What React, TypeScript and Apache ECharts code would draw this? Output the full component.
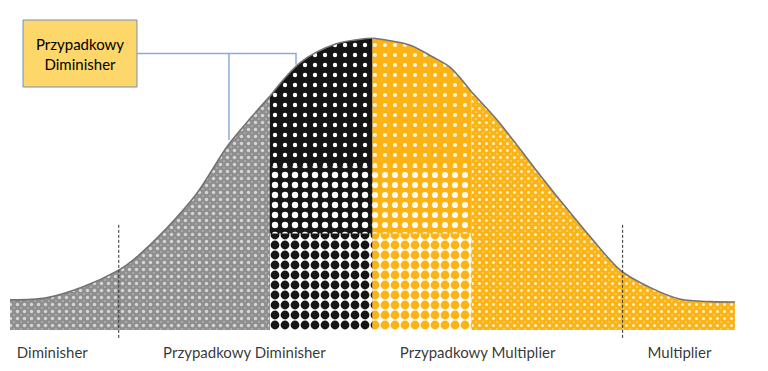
import React, { useEffect, useRef } from "react";
import * as echarts from "echarts";

// Bell curve outline (x in std-dev units, y as relative height)
const curveX = [-3.0, -2.7, -2.4, -2.1, -1.95, -1.7, -1.45, -1.2, -1.0, -0.85, -0.6, -0.3, 0, 0.3, 0.5, 0.65, 0.82, 1.05, 1.35, 1.6, 1.8, 2.05, 2.3, 2.55, 2.8, 3.0];
const curveY = [0.103, 0.11, 0.147, 0.205, 0.25, 0.35, 0.47, 0.63, 0.73, 0.8, 0.915, 0.98, 1.0, 0.977, 0.935, 0.897, 0.815, 0.71, 0.55, 0.42, 0.32, 0.205, 0.145, 0.105, 0.097, 0.096];

// region boundaries: gray | black | yellow (coarse) | yellow (fine)
const regionStart = [-3.0, -0.85, 0, 0.82];
const regionEnd = [-0.85, 0, 0.82, 3.0];
// halftone bands inside the coarse regions (heights)
const midBandTop = 0.56;
const lowBandTop = 0.33;

const dashX = [-2.1, 2.07];
const dashY = [-0.027, 0.363];

const regionLabels = ["Diminisher", "Przypadkowy Diminisher", "Przypadkowy Multiplier", "Multiplier"];
const labelX = [-2.65, -1.06, 0.87, 2.54];
const labelY = -0.075;

const calloutText = "Przypadkowy\nDiminisher";
const calloutAnchors = [
  [-0.633, 0.908],
  [-1.188, 0.651],
];

type Dot = [number, number, number, string];

function makePattern(size: number, bg: string, dots: Dot[]) {
  const c = document.createElement("canvas");
  c.width = size;
  c.height = size;
  const ctx = c.getContext("2d")!;
  ctx.fillStyle = bg;
  ctx.fillRect(0, 0, size, size);
  for (const [x, y, r, col] of dots) {
    ctx.fillStyle = col;
    ctx.beginPath();
    ctx.arc(x, y, r, 0, Math.PI * 2);
    ctx.fill();
  }
  return { image: c.toDataURL(), repeat: "repeat", imageWidth: size, imageHeight: size } as any;
}

function corners(size: number, r: number, col: string): Dot[] {
  return [
    [0, 0, r, col],
    [size, 0, r, col],
    [0, size, r, col],
    [size, size, r, col],
  ];
}

export default function App() {
  const ref = useRef<HTMLDivElement>(null);

  useEffect(() => {
    document.body.style.margin = "0";
    const chart = echarts.init(ref.current!, null, { renderer: "svg" });

    const grayP = makePattern(7, "#8f8f8f", [[3.5, 3.5, 1.7, "#d6d6d6"], ...corners(7, 1.0, "#b0b0b0")]);
    const blackP = makePattern(10, "#141414", [[5, 5, 2.2, "#ffffff"]]);
    const blackMidP = makePattern(10, "#161616", [[5, 5, 3.2, "#ffffff"]]);
    const blackLowP = makePattern(10, "#ffffff", [[5, 5, 4.4, "#161616"]]);
    const yelAP = makePattern(10, "#fcb316", [[5, 5, 2.1, "#fff6dc"]]);
    const yelAMidP = makePattern(10, "#fcb316", [[5, 5, 3.1, "#fffaf0"]]);
    const yelALowP = makePattern(10, "#fffaf0", [[5, 5, 4.4, "#fcb316"]]);
    const yelBP = makePattern(7, "#fcb316", [[3.5, 3.5, 1.5, "#fff0c8"], ...corners(7, 0.9, "#fdd27a")]);
    const patterns = [grayP, blackP, yelAP, yelBP];

    const pts = curveX.map((x, i) => [x, curveY[i]]);

    const regionSeries = regionStart.map((s, k) => ({
      type: "line",
      data: pts.filter((p) => p[0] >= s - 1e-9 && p[0] <= regionEnd[k] + 1e-9),
      smooth: 0.3,
      symbol: "none",
      z: 2,
      lineStyle: { color: "#737373", width: 1.6 },
      areaStyle: { color: patterns[k], opacity: 1, origin: "auto" },
    }));

    const bands = [
      { s: regionStart[1], e: regionEnd[1], top: midBandTop, p: blackMidP, z: 3 },
      { s: regionStart[1], e: regionEnd[1], top: lowBandTop, p: blackLowP, z: 4 },
      { s: regionStart[2], e: regionEnd[2], top: midBandTop, p: yelAMidP, z: 3 },
      { s: regionStart[2], e: regionEnd[2], top: lowBandTop, p: yelALowP, z: 4 },
    ];
    const bandSeries = bands.map((b) => ({
      type: "line",
      data: [
        [b.s, b.top],
        [b.e, b.top],
      ],
      symbol: "none",
      z: b.z,
      lineStyle: { width: 0, opacity: 0 },
      areaStyle: { color: b.p, opacity: 1, origin: "auto" },
    }));

    const dashSeries = dashX.map((x) => ({
      type: "line",
      data: [
        [x, dashY[0]],
        [x, dashY[1]],
      ],
      symbol: "none",
      z: 5,
      lineStyle: { color: "#33302a", width: 1, type: [3, 2] },
    }));

    const labelSeries = {
      type: "scatter",
      symbolSize: 0,
      z: 6,
      data: labelX.map((x, i) => ({ value: [x, labelY], name: regionLabels[i] })),
      label: {
        show: true,
        position: "inside",
        formatter: (p: any) => p.name,
        color: "#000000",
        fontFamily: "Lato",
        fontSize: 15,
      },
    };

    chart.setOption({
      animation: false,
      grid: { left: 10, right: 33, top: 38, bottom: 6 },
      xAxis: { type: "value", min: -3, max: 3, show: false },
      yAxis: { type: "value", min: -0.12, max: 1, show: false },
      series: [...regionSeries, ...bandSeries, ...dashSeries, labelSeries],
    });

    const a1 = chart.convertToPixel({ gridIndex: 0 }, calloutAnchors[0]) as number[];
    const a2 = chart.convertToPixel({ gridIndex: 0 }, calloutAnchors[1]) as number[];
    const boxX = 23, boxY = 20, boxW = 114, boxH = 67;
    const midY = boxY + boxH / 2;
    const connStyle = { stroke: "#8eaadb", lineWidth: 1.5, fill: null };

    chart.setOption({
      graphic: [
        {
          type: "polyline",
          shape: { points: [[boxX + boxW, midY], [a1[0], midY], [a1[0], a1[1]]] },
          style: connStyle,
          z: 10,
        },
        {
          type: "polyline",
          shape: { points: [[a2[0], midY], [a2[0], a2[1]]] },
          style: connStyle,
          z: 10,
        },
        {
          type: "rect",
          shape: { x: boxX, y: boxY, width: boxW, height: boxH },
          style: { fill: "#fdd76a", stroke: "#7190c6", lineWidth: 1 },
          z: 11,
        },
        {
          type: "text",
          x: boxX + boxW / 2,
          y: midY,
          style: {
            text: calloutText,
            fill: "#000000",
            font: "15px Lato",
            lineHeight: 20,
            align: "center",
            verticalAlign: "middle",
          },
          z: 12,
        },
      ],
    });

    return () => chart.dispose();
  }, []);

  return <div ref={ref} style={{ width: 768, height: 371 }} />;
}
